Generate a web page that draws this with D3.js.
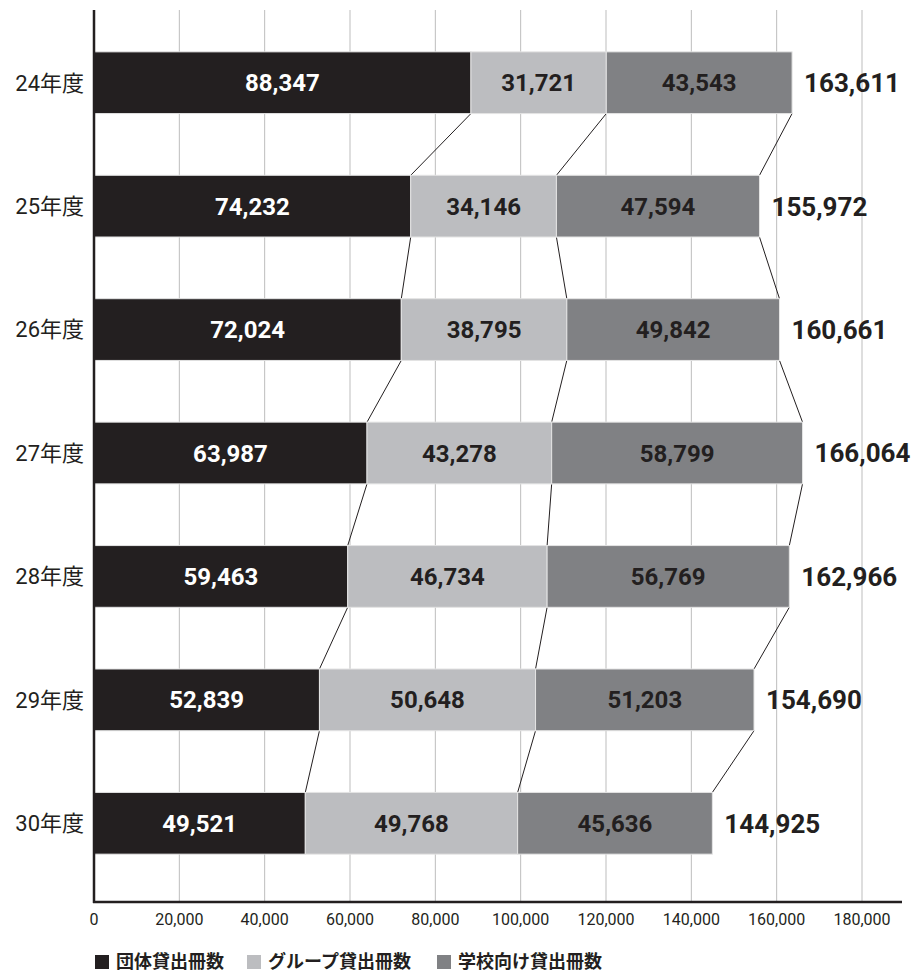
<!DOCTYPE html>
<html lang="ja">
<head>
<meta charset="UTF-8">
<title>貸出冊数</title>
<style>
  body { margin: 0; background: #fff; }
  svg text { font-family: Roboto, "Noto Sans CJK JP", sans-serif; }
</style>
</head>
<body>
<div id="chart"></div>
<script src="https://d3js.org/d3.v7.min.js"></script>
<script>
// years (rows, top to bottom)
var years = ["24年度", "25年度", "26年度", "27年度", "28年度", "29年度", "30年度"];
// series
var seriesNames = ["団体貸出冊数", "グループ貸出冊数", "学校向け貸出冊数"];
var dantai = [88347, 74232, 72024, 63987, 59463, 52839, 49521];
var group = [31721, 34146, 38795, 43278, 46734, 50648, 49768];
var gakkou = [43543, 47594, 49842, 58799, 56769, 51203, 45636];
var totals = [163611, 155972, 160661, 166064, 162966, 154690, 144925];
var xTicks = [0, 20000, 40000, 60000, 80000, 100000, 120000, 140000, 160000, 180000];

var colors = ["#231f20", "#bcbdc0", "#808184"];
var labelColors = ["#fff", "#231f20", "#231f20"];

var width = 920, height = 974;
var svg = d3.select("#chart").append("svg")
    .attr("width", width)
    .attr("height", height);

// scales
var x = d3.scaleLinear().domain([0, 180000]).range([94, 862]);
var y = d3.scaleBand().domain(years).range([21, 885])
    .paddingInner(0.5).paddingOuter(0.25);

var plotTop = 10, plotBottom = 902;

// grid lines
svg.append("g").selectAll("line")
    .data(xTicks.slice(1))
    .enter().append("line")
    .attr("x1", function (d) { return x(d); })
    .attr("x2", function (d) { return x(d); })
    .attr("y1", plotTop)
    .attr("y2", plotBottom)
    .attr("stroke", "#bdbdbd")
    .attr("stroke-width", 1);

// build stacked data
var rows = years.map(function (yr, i) {
    return { year: yr, values: [dantai[i], group[i], gakkou[i]], total: totals[i] };
});
var stack = d3.stack().keys([0, 1, 2]).value(function (d, k) { return d.values[k]; });
var stacked = stack(rows);

// connector lines between rows (segment boundaries)
var conn = svg.append("g");
for (var i = 0; i < rows.length - 1; i++) {
    for (var k = 0; k < 3; k++) {
        conn.append("line")
            .attr("x1", x(stacked[k][i][1]))
            .attr("y1", y(years[i]) + y.bandwidth())
            .attr("x2", x(stacked[k][i + 1][1]))
            .attr("y2", y(years[i + 1]))
            .attr("stroke", "#231f20")
            .attr("stroke-width", 1);
    }
}

// bars
var layers = svg.append("g").selectAll("g")
    .data(stacked)
    .enter().append("g")
    .attr("fill", function (d, k) { return colors[k]; });

layers.selectAll("rect")
    .data(function (d) { return d; })
    .enter().append("rect")
    .attr("x", function (d) { return x(d[0]); })
    .attr("y", function (d) { return y(d.data.year); })
    .attr("width", function (d) { return x(d[1]) - x(d[0]); })
    .attr("height", y.bandwidth())
    .attr("stroke", "#e4e4e4")
    .attr("stroke-width", 1);

// segment labels
layers.each(function (layer, k) {
    d3.select(this).selectAll("text")
        .data(layer)
        .enter().append("text")
        .attr("x", function (d) { return (x(d[0]) + x(d[1])) / 2; })
        .attr("y", function (d) { return y(d.data.year) + y.bandwidth() / 2; })
        .attr("dy", "0.36em")
        .attr("text-anchor", "middle")
        .attr("fill", labelColors[k])
        .style("font-size", "24px")
        .style("font-weight", "bold")
        .text(function (d) { return d3.format(",")(d[1] - d[0]); });
});

// totals
svg.append("g").selectAll("text")
    .data(rows)
    .enter().append("text")
    .attr("x", function (d) { return x(d.total) + 12; })
    .attr("y", function (d) { return y(d.year) + y.bandwidth() / 2; })
    .attr("dy", "0.36em")
    .attr("fill", "#231f20")
    .style("font-size", "26px")
    .style("font-weight", "bold")
    .text(function (d) { return d3.format(",")(d.total); });

// year labels
svg.append("g").selectAll("text")
    .data(years)
    .enter().append("text")
    .attr("x", 84)
    .attr("y", function (d) { return y(d) + y.bandwidth() / 2; })
    .attr("dy", "0.36em")
    .attr("text-anchor", "end")
    .attr("fill", "#231f20")
    .style("font-size", "22px")
    .text(function (d) { return d; });

// axes lines
svg.append("line")
    .attr("x1", 94).attr("x2", 94)
    .attr("y1", plotTop).attr("y2", plotBottom + 1)
    .attr("stroke", "#231f20").attr("stroke-width", 2.5);
svg.append("line")
    .attr("x1", 93).attr("x2", 902)
    .attr("y1", plotBottom).attr("y2", plotBottom)
    .attr("stroke", "#231f20").attr("stroke-width", 2.5);

// tick labels
svg.append("g").selectAll("text")
    .data(xTicks)
    .enter().append("text")
    .attr("x", function (d) { return x(d); })
    .attr("y", 925)
    .attr("text-anchor", "middle")
    .attr("fill", "#231f20")
    .style("font-size", "16px")
    .text(function (d) { return d3.format(",")(d); });

// legend
var legendX = [95, 247, 437];
var legend = svg.append("g").selectAll("g")
    .data(seriesNames)
    .enter().append("g")
    .attr("transform", function (d, k) { return "translate(" + legendX[k] + ",955)"; });
legend.append("rect")
    .attr("width", 14).attr("height", 14)
    .attr("fill", function (d, k) { return colors[k]; });
legend.append("text")
    .attr("x", 21)
    .attr("y", 7)
    .attr("dy", "0.36em")
    .attr("fill", "#231f20")
    .style("font-size", "18px")
    .style("font-weight", "bold")
    .text(function (d) { return d; });
</script>
</body>
</html>
